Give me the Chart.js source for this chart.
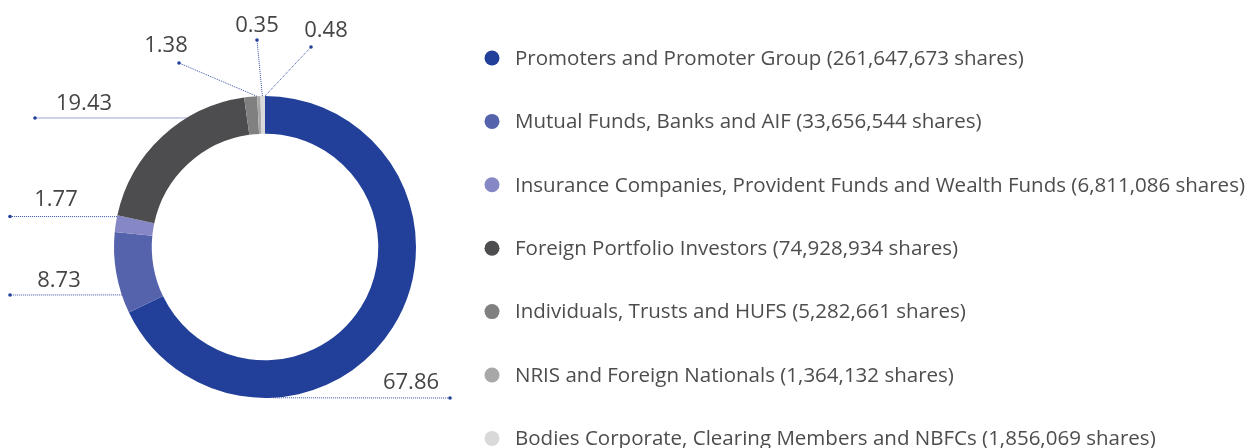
<!DOCTYPE html>
<html>
<head>
<meta charset="utf-8">
<script src="https://cdn.jsdelivr.net/npm/chart.js@4/dist/chart.umd.min.js"></script>
<style>
  html, body { margin: 0; padding: 0; background: #ffffff; }
  #wrap { width: 1247px; height: 448px; }
</style>
</head>
<body>
<div id="wrap"><canvas id="c" width="1247" height="448"></canvas></div>
<script>
// ---- data ----
const categories = [
  "Promoters and Promoter Group",
  "Mutual Funds, Banks and AIF",
  "Insurance Companies, Provident Funds and Wealth Funds",
  "Foreign Portfolio Investors",
  "Individuals, Trusts and HUFS",
  "NRIS and Foreign Nationals",
  "Bodies Corporate, Clearing Members and NBFCs"
];
const percentages = [67.86, 8.73, 1.77, 19.43, 1.38, 0.35, 0.48];
const shares = [261647673, 33656544, 6811086, 74928934, 5282661, 1364132, 1856069];

// ---- styles ----
const colors = ["#22409a", "#5562ac", "#8588c4", "#4d4d4f", "#808080", "#a8a8a8", "#d9d9d9"];

// label placement (relative to the doughnut centre): edge angle (deg), line end, text centre
const labelLayout = [
  { a: 87,    ex: 185,  ey: 151,   tx: 146,  ty: 136 },
  { a: 161.5, ex: -255, ey: 48,    tx: -206, ty: 34 },
  { a: 191.6, ex: -255, ey: -30.5, tx: -209, ty: -47 },
  { a: 238.7, ex: -230, ey: -129,  tx: -181, ty: -143 },
  { a: 266.9, ex: -86,  ey: -184,  tx: -99,  ty: -201 },
  { a: 269,   ex: -8,   ey: -207,  tx: -8,   ty: -221 },
  { a: 270,   ex: 46,   ey: -200,  tx: 61,   ty: -216 }
];

const legendLabels = categories.map((c, i) => c + " (" + shares[i].toLocaleString("en-US") + " shares)");

const leaderPlugin = {
  id: "leaders",
  afterDraw(chart) {
    const ctx = chart.ctx;
    const meta = chart.getDatasetMeta(0);
    const arc0 = meta.data[0];
    const cx = arc0.x, cy = arc0.y, r = arc0.outerRadius;
    ctx.save();
    meta.data.forEach((arc, i) => {
      const L = labelLayout[i];
      const ang = L.a * Math.PI / 180;
      const sx = cx + r * Math.cos(ang);
      const sy = cy + r * Math.sin(ang);
      const ex = cx + L.ex, ey = cy + L.ey;
      ctx.beginPath();
      ctx.setLineDash([1, 1]);
      ctx.lineWidth = 1;
      ctx.strokeStyle = "#3550a6";
      ctx.moveTo(sx, sy);
      ctx.lineTo(ex, ey);
      ctx.stroke();
      ctx.setLineDash([]);
      ctx.beginPath();
      ctx.fillStyle = "#22409a";
      ctx.arc(ex, ey, 1.8, 0, Math.PI * 2);
      ctx.fill();
      ctx.fillStyle = "#454545";
      ctx.font = "22px 'Open Sans'";
      ctx.textAlign = "center";
      ctx.textBaseline = "middle";
      ctx.fillText(percentages[i].toFixed(2), cx + L.tx, cy + L.ty);
    });

    // legend
    const lx = 492, ly0 = 58, step = 63.4;
    ctx.font = "18px 'Open Sans'";
    let maxW = 0;
    legendLabels.forEach(t => { maxW = Math.max(maxW, ctx.measureText(t).width); });
    const fs = 18 * 730 / maxW;
    ctx.font = fs.toFixed(2) + "px 'Open Sans'";
    ctx.textAlign = "left";
    ctx.textBaseline = "middle";
    legendLabels.forEach((t, i) => {
      const y = ly0 + i * step;
      ctx.beginPath();
      ctx.fillStyle = colors[i];
      ctx.arc(lx, y, 7.5, 0, Math.PI * 2);
      ctx.fill();
      ctx.fillStyle = "#4d4d4d";
      ctx.fillText(t, 515, y + 1);
    });
    ctx.restore();
  }
};

new Chart(document.getElementById("c"), {
  type: "doughnut",
  data: {
    labels: categories,
    datasets: [{
      data: percentages,
      backgroundColor: colors,
      borderWidth: 0
    }]
  },
  options: {
    responsive: false,
    animation: false,
    devicePixelRatio: 1,
    cutout: "75%",
    rotation: 0,
    layout: { padding: { left: 114, right: 831, top: 96, bottom: 50 } },
    plugins: {
      legend: { display: false },
      tooltip: { enabled: false }
    }
  },
  plugins: [leaderPlugin]
});
</script>
</body>
</html>
